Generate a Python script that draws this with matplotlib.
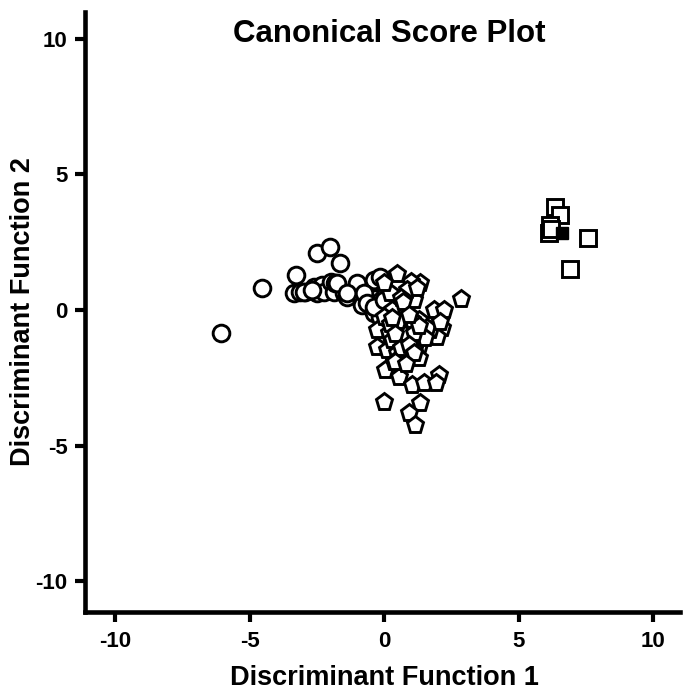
import matplotlib.pyplot as plt

plt.rcParams['font.family'] = ['Liberation Sans', 'DejaVu Sans']
plt.rcParams['font.weight'] = 'bold'
plt.rcParams['axes.unicode_minus'] = False

# group 1 - circles
circ_x = [-6.07, -4.55, -3.28, -3.37, -2.50, -2.04, -1.66, -3.12, -2.94, -2.63,
          -2.50, -2.32, -2.26, -2.00, -1.88, -1.82, -1.51, -1.39, -1.01, -0.89,
          -0.52, -0.40, -0.83, -0.52, -1.76, -1.01, -0.40, -0.15, -0.77, -1.39,
          -0.64, -0.40, -0.15, -0.40, -0.03, -3.0, -2.7]
circ_y = [-0.84, 0.82, 1.29, 0.62, 2.09, 2.34, 1.72, 0.68, 0.68, 0.86,
          0.62, 0.92, 0.68, 1.05, 0.68, 0.98, 0.62, 0.49, 0.92, 0.55,
          0.80, 1.05, 0.18, 0.18, 0.98, 0.98, 1.10, 1.23, 0.62, 0.62,
          0.25, -0.12, -0.25, 0.12, 0.37, 0.65, 0.75]

# group 2 - pentagons
pent_x = [2.85, 0.47, 1.34, 0.97, 0.22, 1.83, 2.20, 1.28, 2.14, 1.96,
          1.71, 0.84, -0.27, 0.16, -0.27, 0.10, 0.47, 1.28, 1.28, 0.78,
          0.04, 0.53, 1.03, 1.46, 2.02, 1.90, 1.34, -0.03, 0.90, 1.15,
          0.66, 0.93, 0.66, 1.59, 1.09, 0.84, -0.03, 0.28, -0.03, 1.03,
          2.08, 1.52, 1.09, 0.35, 0.60, 1.20, 0.50, 0.30, 1.10, 0.70,
          0.20, 0.40, 0.60, 0.90, 1.10, 0.40, 0.80, 1.30, 0.90, 0.30]
pent_y = [0.41, 1.33, 0.98, 1.05, 0.62, 0.00, 0.00, -0.37, -0.68, -0.98,
          -0.74, -0.62, -0.74, -0.86, -1.35, -1.48, -1.60, -1.35, -1.78, -1.72,
          -2.21, -2.46, -2.77, -2.71, -2.40, -2.71, -3.44, -3.38, -3.81, -4.24,
          -1.23, -1.10, -0.86, -0.68, 0.37, 0.74, 0.98, 0.00, -0.25, -0.37,
          -0.43, -1.03, -1.48, -1.90, 0.45, 0.80, -0.40, -1.10, -0.85, 0.30,
          -0.50, -0.90, -1.40, -1.30, -1.60, -1.90, -2.00, -0.60, -0.20, -0.30]

# group 3 - squares
sq_x = [6.33, 6.51, 6.17, 6.11, 6.20, 7.57, 6.91]
sq_y = [3.79, 3.51, 3.14, 2.83, 3.00, 2.67, 1.51]
sq_fill_x = [6.60]
sq_fill_y = [2.85]

fig = plt.figure(figsize=(6.88, 6.91), dpi=100)
ax = fig.add_axes([0.1235, 0.115, 0.865, 0.868])

mk = dict(linestyle='none', markerfacecolor='white', markeredgecolor='black',
          markeredgewidth=2.1)
ax.plot(circ_x, circ_y, marker='o', markersize=12, **mk)
ax.plot(pent_x, pent_y, marker='p', markersize=12.5, **mk)
ax.plot(sq_x, sq_y, marker='s', markersize=11, **mk)
ax.plot(sq_fill_x, sq_fill_y, marker='s', linestyle='none', color='black', markersize=8)

ax.set_xlim(-11.13, 10.99)
ax.set_ylim(-11.12, 11.0)
ax.set_xticks([-10, -5, 0, 5, 10])
ax.set_yticks([-10, -5, 0, 5, 10])

for s in ['top', 'right']:
    ax.spines[s].set_visible(False)
for s in ['left', 'bottom']:
    ax.spines[s].set_linewidth(3.3)
ax.tick_params(width=3, length=7.5, labelsize=16)
ax.tick_params(axis='x', pad=6.5)
ax.tick_params(axis='y', pad=5)

ax.set_xlabel('Discriminant Function 1', fontsize=19.5, fontweight='bold')
ax.set_ylabel('Discriminant Function 2', fontsize=19.5, fontweight='bold')
ax.xaxis.set_label_coords(0.503, -0.089)
ax.yaxis.set_label_coords(-0.083, 0.5)
fig.text(0.566, 0.951, 'Canonical Score Plot', ha='center', va='center',
         fontsize=22.5, fontweight='bold')

fig.savefig('out.png', dpi=100)
